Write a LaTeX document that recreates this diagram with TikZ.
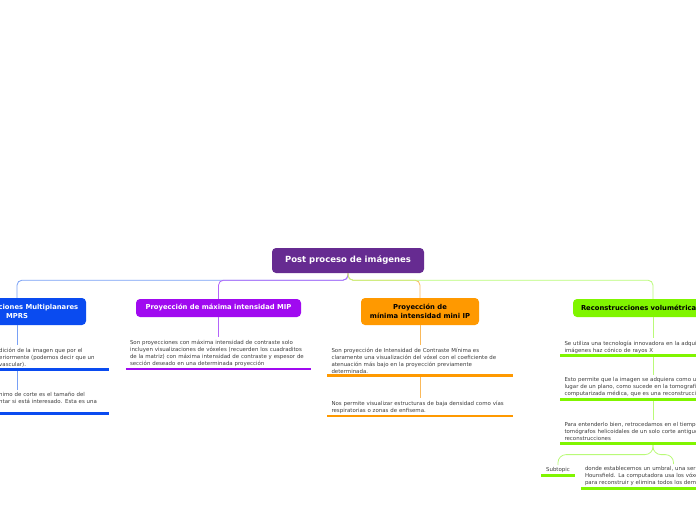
\documentclass[tikz,border=0pt]{standalone}
\usepackage{fontspec}
\setmainfont{DejaVu Sans}
\definecolor{rootpurple}{RGB}{102,43,145}
\definecolor{mprsblue}{RGB}{10,75,240}
\definecolor{mprsbluel}{RGB}{120,160,245}
\definecolor{mippurple}{RGB}{160,10,240}
\definecolor{mippurplel}{RGB}{180,100,250}
\definecolor{minorange}{RGB}{255,153,0}
\definecolor{minorangel}{RGB}{250,185,90}
\definecolor{volgreen}{RGB}{128,245,0}
\definecolor{volgreenl}{RGB}{185,250,120}
\definecolor{notegray}{RGB}{60,60,60}
\newcommand\notefont{\fontsize{5.45}{7}\selectfont}
\newcommand\titlefont{\fontsize{6.8}{8.4}\selectfont\bfseries}
\usetikzlibrary{positioning}
\begin{document}
\begin{tikzpicture}[x=1pt, y=-1pt,
    topic/.style={rounded corners=4pt, font=\titlefont, align=center, inner sep=2pt},
    note/.style={anchor=north, text width=177pt, inner xsep=4pt, inner ysep=2.5pt,
        align=left, font=\notefont, text=notegray},
    branch/.style={line width=0.8pt, rounded corners=5pt},
    bar/.style={line width=2.8pt}]
    \useasboundingbox (0,0) rectangle (696,520);
    \clip (0,0) rectangle (696,520);

    % central topic
    \node[topic, fill=rootpurple, text=white, minimum width=152pt, minimum height=25pt,
        font=\fontsize{8.5}{10}\selectfont\bfseries] (root) at (348,260.5) {Post proceso de imágenes};

    % main topics
    \node[topic, fill=mprsblue, text=white, minimum width=138pt, minimum height=27pt] (mprs) at (17,311.5)
        {Reconstrucciones Multiplanares\\MPRS};
    \node[topic, fill=mippurple, text=white, minimum width=165pt, minimum height=18pt] (mip) at (218.5,308)
        {Proyección de máxima intensidad MIP};
    \node[topic, fill=minorange, minimum width=118pt, minimum height=27pt] (minip) at (420,311.5)
        {Proyección de\\mínima intensidad mini IP};
    \node[topic, fill=volgreen, text width=144pt, inner xsep=8pt, align=left, minimum height=18pt] (vol) at (653,308)
        {Reconstrucciones volumétricas};

    \draw[branch, mprsbluel] (root.south) -- ++(0,7) -| (mprs.north);
    \draw[branch, mippurplel] (root.south) -- ++(0,7) -| (mip.north);
    \draw[branch, minorangel] (root.south) -- ++(0,7) -| (minip.north);
    \draw[branch, volgreenl] (root.south) -- ++(0,7) -| (vol.north);

    % MPRS
    \node[note, anchor=north west, text width=106pt] (mprs1) at (-5,345)
        {dición de la imagen que por el\\eriormente (podemos decir que un\\vascular).};
    \node[note, anchor=north west, text width=106pt] (mprs2) at (-5,390)
        {nimo de corte es el tamaño del\\ntar si está interesado. Esta es una\\\mbox{}};
    \draw[branch, mprsbluel] (mprs.south) -- (mprs.south |- mprs1.north);
    \draw[branch, mprsbluel] (mprs.south |- mprs1.south) -- (mprs.south |- mprs2.north);
    \draw[bar, mprsblue] (mprs1.south west) -- (mprs1.south east);
    \draw[bar, mprsblue] (mprs2.south west) -- (mprs2.south east);

    % MIP
    \node[note] (mip1) at (218.5,337)
        {Son proyecciones con máxima intensidad de contraste solo\\
         incluyen visualizaciones de vóxeles (recuerden los cuadraditos\\
         de la matriz) con máxima intensidad de contraste y espesor de\\
         sección deseado en una determinada proyección};
    \draw[branch, mippurplel] (mip) -- (mip1);
    \draw[bar, mippurple] (mip1.south west) -- (mip1.south east);

    % mini IP
    \node[note] (minip1) at (420,345)
        {Son proyección de Intensidad de Contraste Mínima es\\
         claramente una visualización del vóxel con el coeficiente de\\
         atenuación más bajo en la proyección previamente\\
         determinada.};
    \node[note] (minip2) at (420,398)
        {Nos permite visualizar estructuras de baja densidad como vías\\
         respiratorias o zonas de enfisema.};
    \draw[branch, minorangel] (minip) -- (minip1);
    \draw[branch, minorangel] (minip1) -- (minip2);
    \draw[bar, minorange] (minip1.south west) -- (minip1.south east);
    \draw[bar, minorange] (minip2.south west) -- (minip2.south east);

    % volumetricas
    \node[note] (vol1) at (653,338)
        {Se utiliza una tecnología innovadora en la adquisición\\imágenes haz cónico de rayos X};
    \node[note] (vol2) at (653,375)
        {Esto permite que la imagen se adquiera como un\\lugar de un plano, como sucede en la tomografía\\computarizada médica, que es una reconstrucción};
    \node[note] (vol3) at (653,420)
        {Para entenderlo bien, retrocedamos en el tiempo\\tomógrafos helicoidales de un solo corte antiguos\\reconstrucciones};
    \node[note] (vol4) at (673.5,464)
        {donde establecemos un umbral, una serie\\Hounsfield. La computadora usa los vóxeles\\para reconstruir y elimina todos los demás};
    \node[note, text width=26pt, align=center] (sub) at (558,465) {Subtopic};
    \draw[branch, volgreenl] (vol) -- (vol1);
    \draw[branch, volgreenl] (vol1) -- (vol2);
    \draw[branch, volgreenl] (vol2) -- (vol3);
    \draw[branch, volgreenl, rounded corners=8pt] (vol3.south) -- ++(0,11) -| (sub.north);
    \draw[branch, volgreenl, rounded corners=8pt] (vol3.south) -- ++(0,11) -| (vol4.north);
    \draw[bar, volgreen] (vol1.south west) -- (vol1.south east);
    \draw[bar, volgreen] (vol2.south west) -- (vol2.south east);
    \draw[bar, volgreen] (vol3.south west) -- (vol3.south east);
    \draw[bar, volgreen] (vol4.south west) -- (vol4.south east);
    \draw[bar, volgreen] (sub.south west) -- (sub.south east);
\end{tikzpicture}
\end{document}
